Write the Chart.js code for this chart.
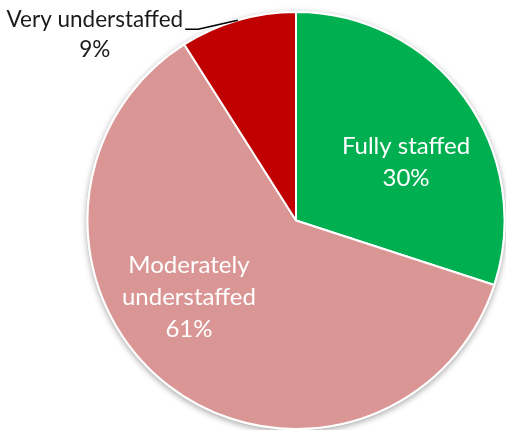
<!DOCTYPE html>
<html>
<head>
<meta charset="utf-8">
<script src="https://cdn.jsdelivr.net/npm/chart.js@4"></script>
<style>
html,body{margin:0;padding:0;background:#fff;overflow:hidden;}
#wrap{width:506px;height:430px;position:relative;}
</style>
</head>
<body>
<div id="wrap"><canvas id="c"></canvas></div>
<script>
const categories = ["Fully staffed", "Moderately understaffed", "Very understaffed"];
const values = [30, 61, 9];
const labelLines = [["Fully staffed"], ["Moderately", "understaffed"], ["Very understaffed"]];
const colors = ["#00B050", "#D99694", "#C00000"];

const FONT = "Lato, 'Open Sans', sans-serif";

const shadowPlugin = {
  id: 'pieShadow',
  beforeDatasetsDraw(chart) {
    const arc = chart.getDatasetMeta(0).data[0];
    if (!arc) return;
    const ctx = chart.ctx;
    ctx.save();
    ctx.shadowColor = 'rgba(0,0,0,0.35)';
    ctx.shadowBlur = 6;
    ctx.shadowOffsetY = 2;
    ctx.beginPath();
    ctx.arc(arc.x, arc.y, arc.outerRadius + 1, 0, Math.PI * 2);
    ctx.fillStyle = '#fff';
    ctx.fill();
    ctx.restore();
  }
};

const labelPlugin = {
  id: 'sliceLabels',
  afterDatasetsDraw(chart, args, opts) {
    const meta = chart.getDatasetMeta(0);
    const ctx = chart.ctx;
    const total = values.reduce((a, b) => a + b, 0);
    meta.data.forEach((arc, i) => {
      const cfg = opts.place[i];
      const mid = (arc.startAngle + arc.endAngle) / 2;
      const pct = Math.round(values[i] / total * 100) + '%';
      const lines = labelLines[i].concat([pct]);
      ctx.save();
      ctx.textAlign = 'center';
      ctx.textBaseline = 'alphabetic';
      if (cfg.inside) {
        const a = mid + cfg.dAngle * Math.PI / 180;
        const r = arc.outerRadius * cfg.frac;
        const cx = arc.x + r * Math.cos(a);
        const cy = arc.y + r * Math.sin(a);
        ctx.fillStyle = '#ffffff';
        ctx.font = cfg.size + 'px ' + FONT;
        const lh = cfg.lh;
        const n = lines.length;
        lines.forEach((t, k) => {
          const y = cy + (k - (n - 1) / 2) * lh + cfg.size * 0.36;
          ctx.fillText(t, cx, y);
        });
      } else {
        const ex = arc.x + arc.outerRadius * Math.cos(mid);
        const ey = arc.y + arc.outerRadius * Math.sin(mid);
        const tx = ex + cfg.dx;
        const ty = ey + cfg.dy;
        ctx.fillStyle = '#1a1a1a';
        ctx.font = cfg.size + 'px ' + FONT;
        lines.forEach((t, k) => {
          ctx.fillText(t, tx, ty + k * cfg.lh);
        });
        const w = ctx.measureText(lines[0]).width;
        const lx = tx + w / 2 + 2;
        ctx.strokeStyle = '#000';
        ctx.lineWidth = 1.5;
        ctx.beginPath();
        ctx.moveTo(lx, ty + 2);
        ctx.lineTo(lx + 13, ty + 2);
        ctx.lineTo(ex, ey);
        ctx.stroke();
      }
      ctx.restore();
    });
  }
};

new Chart(document.getElementById('c'), {
  type: 'pie',
  data: {
    labels: categories,
    datasets: [{
      data: values,
      backgroundColor: colors,
      borderColor: '#ffffff',
      borderWidth: 2
    }]
  },
  options: {
    responsive: true,
    maintainAspectRatio: false,
    animation: false,
    layout: { padding: { left: 86, right: 0, top: 11, bottom: 0 } },
    plugins: {
      legend: { display: false },
      tooltip: { enabled: false },
      sliceLabels: {
        place: [
          { inside: true, frac: 0.60, dAngle: 7.6, size: 24, lh: 32 },
          { inside: true, frac: 0.63, dAngle: 16.8, size: 24, lh: 32 },
          { inside: false, dx: -143, dy: 7, size: 22.5, lh: 30 }
        ]
      }
    }
  },
  plugins: [shadowPlugin, labelPlugin]
});
</script>
</body>
</html>
